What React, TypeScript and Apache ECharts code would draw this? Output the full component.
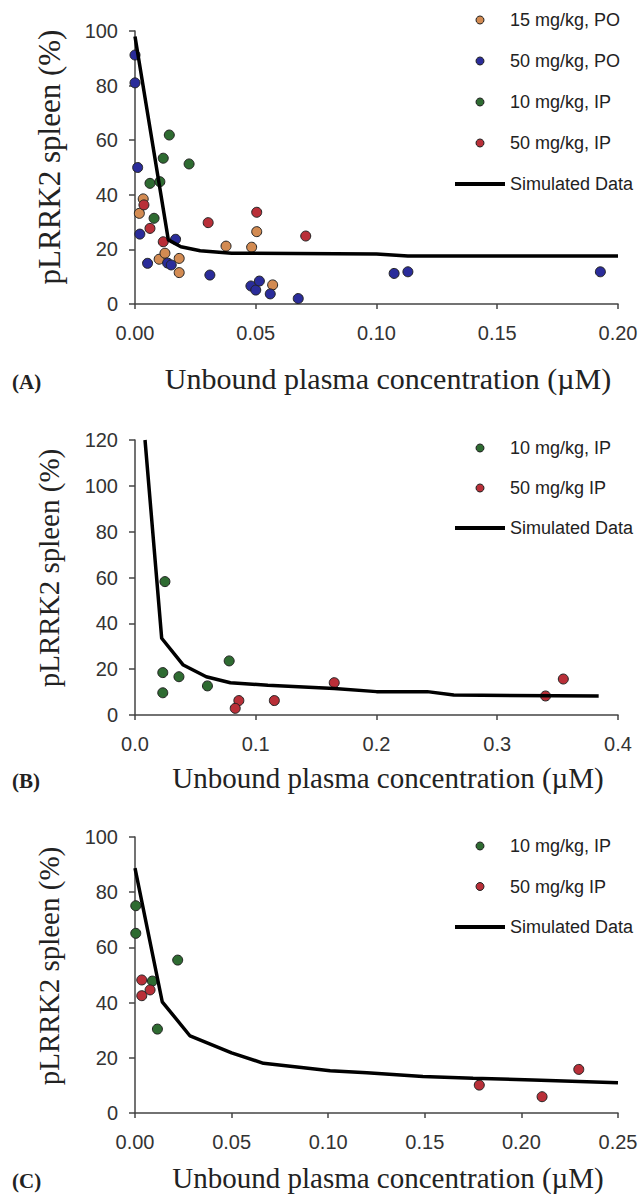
import React, { useEffect, useRef } from "react";
import * as echarts from "echarts";

// ---------- Panel A ----------
const A_PO15: number[][] = [
  [0.0034, 38.5], [0.0018, 33.2], [0.010, 16.4], [0.0124, 18.6], [0.0183, 16.7],
  [0.0183, 11.5], [0.0377, 21.2], [0.0483, 20.8], [0.0504, 26.5], [0.057, 7],
];
const A_PO50: number[][] = [
  [0, 91.2], [0, 81], [0.0011, 50], [0.002, 25.6], [0.0052, 14.9], [0.0135, 15],
  [0.015, 14.3], [0.0168, 23.7], [0.031, 10.6], [0.048, 6.6], [0.050, 5.1],
  [0.0515, 8.4], [0.056, 3.7], [0.0676, 2], [0.1073, 11.2], [0.113, 11.8], [0.1927, 11.8],
];
const A_IP10: number[][] = [
  [0.0142, 61.9], [0.0117, 53.4], [0.0224, 51.3], [0.0062, 44.2], [0.0103, 44.8], [0.0079, 31.4],
];
const A_IP50: number[][] = [
  [0.0037, 36.3], [0.0062, 27.7], [0.0117, 22.8], [0.0303, 29.8], [0.0504, 33.6], [0.0707, 24.9],
];
const A_SIM: number[][] = [
  [0, 98], [0.0138, 23.5], [0.019, 21], [0.027, 19.5], [0.04, 18.6], [0.1, 18.3],
  [0.113, 17.6], [0.2, 17.6],
];

// ---------- Panel B ----------
const B_IP10: number[][] = [
  [0.0248, 58.2], [0.023, 18.5], [0.023, 9.7], [0.0364, 16.7], [0.060, 12.7], [0.078, 23.6],
];
const B_IP50: number[][] = [
  [0.086, 6.3], [0.083, 2.9], [0.1154, 6.3], [0.165, 14.1], [0.340, 8.3], [0.3547, 15.7],
];
const B_SIM: number[][] = [
  [0.0083, 120], [0.0221, 33.5], [0.04, 21.8], [0.059, 16.7], [0.079, 14.1], [0.11, 13],
  [0.165, 11.6], [0.2, 10.2], [0.242, 10.2], [0.264, 8.7], [0.384, 8.3],
];

// ---------- Panel C ----------
const C_IP10: number[][] = [
  [0.0004, 75.1], [0.0004, 65.1], [0.0221, 55.4], [0.009, 47.8], [0.0116, 30.4],
];
const C_IP50: number[][] = [
  [0.0035, 48.2], [0.0035, 42.5], [0.0078, 44.6], [0.1782, 10.1], [0.2107, 5.9], [0.2297, 15.8],
];
const C_SIM: number[][] = [
  [0, 88.7], [0.0141, 40.3], [0.0285, 27.9], [0.05, 21.8], [0.0665, 18], [0.085, 16.6],
  [0.101, 15.3], [0.12, 14.6], [0.149, 13.2], [0.175, 12.6], [0.206, 12], [0.25, 11],
];

const NAMES_A = ["15 mg/kg, PO", "50 mg/kg, PO", "10 mg/kg, IP", "50 mg/kg, IP", "Simulated Data"];
const NAMES_BC = ["10 mg/kg, IP", "50 mg/kg IP", "Simulated Data"];

const X_TITLE = "Unbound plasma concentration (\u00b5M)";
const Y_TITLE = "pLRRK2 spleen (%)";

const COLORS: Record<string, string> = {
  orange: "#d38b52",
  blue: "#2a2c9a",
  green: "#2e6b31",
  red: "#b92f38",
};

const SANS = "'Liberation Sans', Arial, sans-serif";
const SERIF = "'Liberation Serif', 'Times New Roman', serif";
const LINE_ICON = "path://M0 0H50V4H0Z";

export default function App() {
  const ref = useRef<HTMLDivElement>(null);

  useEffect(() => {
    document.body.style.margin = "0";
    if (!ref.current) return;
    const chart = echarts.init(ref.current, undefined, { renderer: "svg" });

    const grids = [
      { left: 135, top: 31, width: 483, height: 273 },
      { left: 135, top: 440, width: 483, height: 275 },
      { left: 135, top: 837, width: 483, height: 276 },
    ];
    const xMax = [0.2, 0.4, 0.25];
    const xInt = [0.05, 0.1, 0.05];
    const xDec = [2, 1, 2];
    const yMax = [100, 120, 100];

    const axisLine = { show: true, lineStyle: { color: "#444", width: 1.5 } };
    const axisTick = { show: true, length: 5, lineStyle: { color: "#444", width: 1.5 } };

    const xAxis = grids.map((_, i) => ({
      type: "value",
      gridIndex: i,
      min: 0,
      max: xMax[i],
      interval: xInt[i],
      splitLine: { show: false },
      axisLine,
      axisTick,
      axisLabel: {
        margin: 19,
        fontFamily: SANS,
        fontSize: 20,
        color: "#333",
        formatter: (v: number) => v.toFixed(xDec[i]),
      },
    }));
    const yAxis = grids.map((_, i) => ({
      type: "value",
      gridIndex: i,
      min: 0,
      max: yMax[i],
      interval: 20,
      splitLine: { show: false },
      axisLine,
      axisTick: { ...axisTick, length: 6 },
      axisLabel: { margin: 17, fontFamily: SANS, fontSize: 20, color: "#333" },
    }));

    const scatter = (name: string, data: number[][], color: string, idx: number) => ({
      type: "scatter",
      name,
      data,
      xAxisIndex: idx,
      yAxisIndex: idx,
      symbol: "circle",
      symbolSize: 10,
      itemStyle: { color, borderColor: "#222", borderWidth: 1, opacity: 1 },
    });
    const line = (data: number[][], idx: number) => ({
      type: "line",
      name: "Simulated Data",
      data,
      xAxisIndex: idx,
      yAxisIndex: idx,
      symbol: "none",
      showSymbol: false,
      smooth: false,
      lineStyle: { color: "#000", width: 3.5 },
      itemStyle: { color: "#000" },
      z: 5,
    });

    const series = [
      scatter(NAMES_A[0], A_PO15, COLORS.orange, 0),
      scatter(NAMES_A[1], A_PO50, COLORS.blue, 0),
      scatter(NAMES_A[2], A_IP10, COLORS.green, 0),
      scatter(NAMES_A[3], A_IP50, COLORS.red, 0),
      line(A_SIM, 0),
      scatter(NAMES_BC[0], B_IP10, COLORS.green, 1),
      scatter(NAMES_BC[1], B_IP50, COLORS.red, 1),
      line(B_SIM, 1),
      scatter(NAMES_BC[0], C_IP10, COLORS.green, 2),
      scatter(NAMES_BC[1], C_IP50, COLORS.red, 2),
      line(C_SIM, 2),
    ];

    const legendData = (names: string[]) =>
      names.map((n) =>
        n === "Simulated Data"
          ? { name: n, icon: LINE_ICON, itemStyle: { color: "#000", borderWidth: 0 } }
          : { name: n, icon: "circle" }
      );

    const legendBase = {
      orient: "vertical",
      left: 455,
      padding: 0,
      itemWidth: 50,
      itemHeight: 8,
      selectedMode: false,
      textStyle: { fontFamily: SANS, fontSize: 18, color: "#222" },
      itemStyle: { borderWidth: 1, borderColor: "#222" },
    };
    const legend = [
      { ...legendBase, top: 11, itemGap: 23, data: legendData(NAMES_A) },
      { ...legendBase, top: 439, itemGap: 22, data: legendData(NAMES_BC) },
      { ...legendBase, top: 837, itemGap: 22.5, data: legendData(NAMES_BC) },
    ];

    const xTitles = [
      { y: 378, size: 30, label: "(A)", ly: 382 },
      { y: 778, size: 29, label: "(B)", ly: 781 },
      { y: 1178, size: 29, label: "(C)", ly: 1181 },
    ];
    const yTitles = [
      { y: 157, size: 31 },
      { y: 568, size: 29 },
      { y: 966, size: 29 },
    ];

    const graphic: any[] = [];
    xTitles.forEach((t) => {
      graphic.push({
        type: "text",
        x: 388,
        y: t.y,
        style: {
          text: X_TITLE,
          font: `${t.size}px ${SERIF}`,
          fill: "#222",
          textAlign: "center",
          textVerticalAlign: "middle",
        },
      });
      graphic.push({
        type: "text",
        x: 12,
        y: t.ly,
        style: {
          text: t.label,
          font: `bold 21px ${SERIF}`,
          fill: "#222",
          textAlign: "left",
          textVerticalAlign: "middle",
        },
      });
    });
    yTitles.forEach((t) => {
      graphic.push({
        type: "text",
        x: 49,
        y: t.y,
        rotation: Math.PI / 2,
        style: {
          text: Y_TITLE,
          font: `${t.size}px ${SERIF}`,
          fill: "#222",
          textAlign: "center",
          textVerticalAlign: "middle",
        },
      });
    });

    chart.setOption({
      animation: false,
      backgroundColor: "#fff",
      grid: grids,
      xAxis,
      yAxis,
      legend,
      series,
      graphic,
    } as any);

    return () => chart.dispose();
  }, []);

  return <div ref={ref} style={{ width: 643, height: 1194 }} />;
}
